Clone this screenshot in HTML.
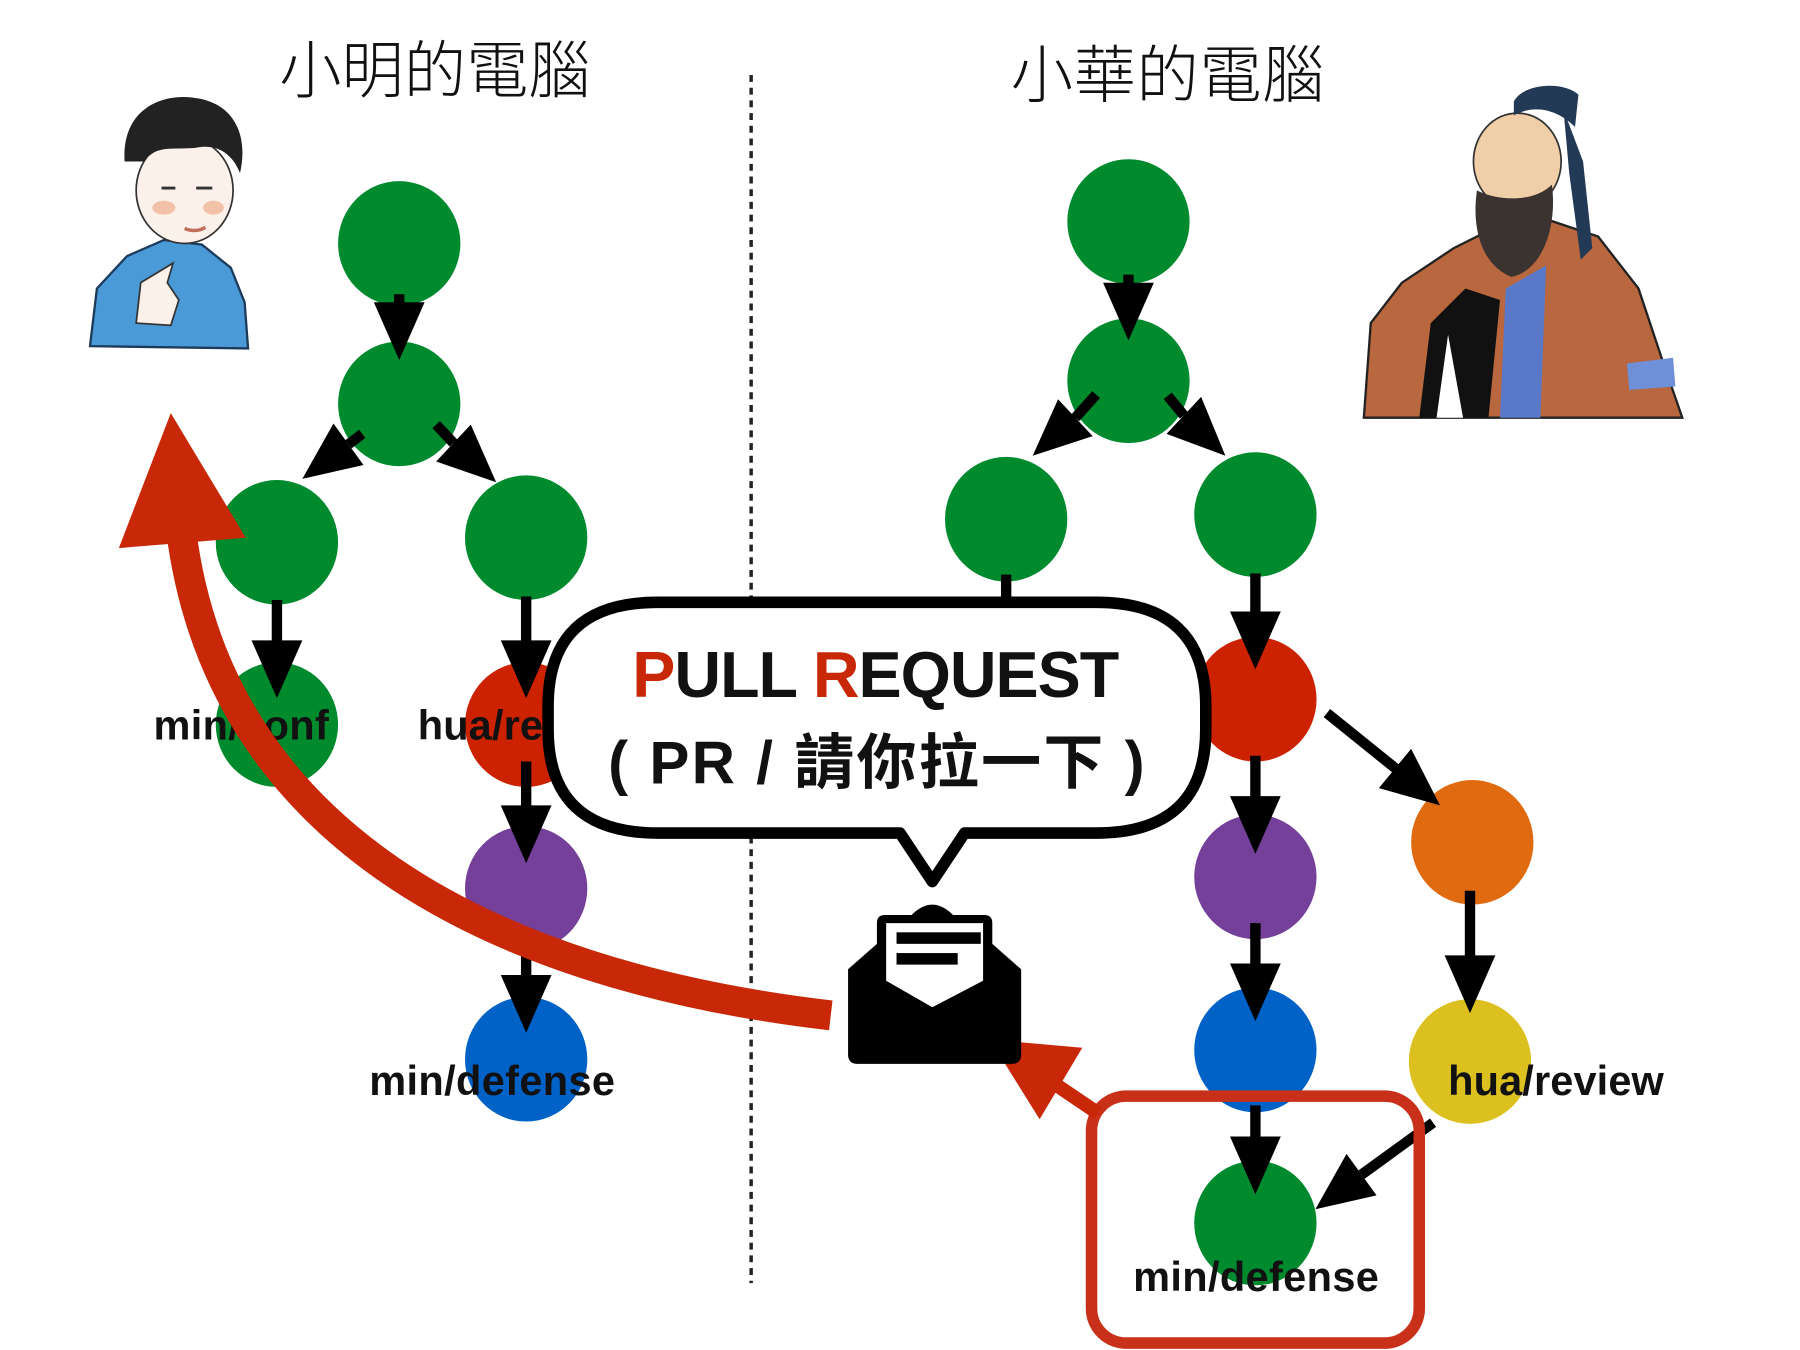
<!DOCTYPE html>
<html><head><meta charset="utf-8"><style>
html,body{margin:0;padding:0;background:#fff;width:1800px;height:1350px;overflow:hidden}
svg{display:block}
.lbl{font-family:"Liberation Sans Narrow","Liberation Sans",sans-serif;font-weight:bold;font-size:36px;fill:#111}
.ttl{font-family:"Liberation Sans","Noto Sans CJK TC",sans-serif;font-weight:300;font-size:54px;fill:#111}
.pr{font-family:"Liberation Sans Narrow","Liberation Sans","Noto Sans CJK TC",sans-serif;font-weight:bold;fill:#111}
</style></head><body>
<svg width="1800" height="1350" viewBox="0 0 1560 1170" xmlns="http://www.w3.org/2000/svg">
<text class="ttl" x="242" y="80" textLength="270">小明的電腦</text>
<text class="ttl" x="876" y="84" textLength="272">小華的電腦</text>
<line x1="651" y1="65" x2="651" y2="1112" stroke="#222" stroke-width="3" stroke-dasharray="6,5"/>

<g>
<path d="M78,300 L84,250 L110,222 L142,208 L175,212 L200,232 L212,262 L215,302 Z" fill="#4a9ad8" stroke="#1c3a5a" stroke-width="2"/>
<ellipse cx="160" cy="165" rx="42" ry="46" fill="#fbf1ea" stroke="#333" stroke-width="1.5"/>
<path d="M108,140 C105,95 140,80 170,85 C205,90 215,120 208,150 C200,130 185,125 170,128 C150,130 135,125 125,140 Z" fill="#222"/>
<ellipse cx="142" cy="180" rx="10" ry="6" fill="#f2c2a8"/>
<ellipse cx="185" cy="180" rx="9" ry="6" fill="#f2c2a8"/>
<line x1="140" y1="163" x2="152" y2="163" stroke="#333" stroke-width="2.5"/>
<line x1="170" y1="163" x2="184" y2="163" stroke="#333" stroke-width="2.5"/>
<path d="M160,198 Q170,202 178,197" stroke="#c0705a" stroke-width="3" fill="none"/>
<path d="M118,280 L122,245 L150,228 L145,245 L155,260 L148,282 Z" fill="#fbf1ea" stroke="#333" stroke-width="1.5"/>
</g>

<g>
<path d="M1182,362 L1188,280 L1215,245 L1260,215 L1300,195 L1340,190 L1385,205 L1420,250 L1440,310 L1458,362 Z" fill="#b8673e" stroke="#222" stroke-width="2"/>
<path d="M1230,362 L1240,280 L1270,250 L1300,260 L1290,362 Z" fill="#111"/>
<path d="M1300,362 L1305,250 L1340,230 L1335,362 Z" fill="#5a78c8"/>
<path d="M1245,362 L1255,290 L1268,362 Z" fill="#fff"/>
<path d="M1410,315 L1450,310 L1452,335 L1412,338 Z" fill="#6f8fd8"/>
<ellipse cx="1315" cy="140" rx="38" ry="42" fill="#f0cfa8" stroke="#333" stroke-width="1.5"/>
<path d="M1312,88 C1320,72 1355,70 1368,82 L1365,110 C1350,95 1330,90 1312,100 Z" fill="#223a55"/>
<path d="M1355,95 L1372,140 L1380,215 L1370,225 L1360,150 Z" fill="#223a55"/>
<path d="M1280,165 C1275,200 1285,230 1310,240 C1335,235 1350,200 1345,160 C1330,175 1300,175 1280,165 Z" fill="#3a3330"/>
</g>

<g>
<ellipse cx="346" cy="211" rx="53" ry="54" fill="#008a2e"/>
<ellipse cx="346" cy="350" rx="53" ry="54" fill="#008a2e"/>
<ellipse cx="240" cy="470" rx="53" ry="54" fill="#008a2e"/>
<ellipse cx="456" cy="466" rx="53" ry="54" fill="#008a2e"/>
<ellipse cx="240" cy="628" rx="53" ry="54" fill="#008a2e"/>
<ellipse cx="456" cy="628" rx="53" ry="54" fill="#cc2200"/>
<ellipse cx="456" cy="770" rx="53" ry="54" fill="#74409a"/>
<ellipse cx="456" cy="918" rx="53" ry="54" fill="#0062c6"/>
</g>
<g>
<ellipse cx="978" cy="192" rx="53" ry="54" fill="#008a2e"/>
<ellipse cx="978" cy="330" rx="53" ry="54" fill="#008a2e"/>
<ellipse cx="872" cy="450" rx="53" ry="54" fill="#008a2e"/>
<ellipse cx="1088" cy="446" rx="53" ry="54" fill="#008a2e"/>
<ellipse cx="1088" cy="606" rx="53" ry="54" fill="#cc2200"/>
<ellipse cx="1088" cy="760" rx="53" ry="54" fill="#74409a"/>
<ellipse cx="1276" cy="730" rx="53" ry="54" fill="#e06a10"/>
<ellipse cx="1088" cy="910" rx="53" ry="54" fill="#0062c6"/>
<ellipse cx="1274" cy="920" rx="53" ry="54" fill="#dcc020"/>
<ellipse cx="1088" cy="1060" rx="53" ry="54" fill="#008a2e"/>
</g>

<g stroke="#000" stroke-width="9" fill="#000">
<line x1="346" y1="255" x2="346" y2="268"/><polygon stroke="none" points="324,262 368,262 346,312"/>
<line x1="314" y1="376" x2="302" y2="385"/><polygon stroke="none" points="315,403 289,367 262,415"/>
<line x1="378" y1="368" x2="393" y2="384"/><polygon stroke="none" points="378,400 408,368 430,418"/>
<line x1="240" y1="520" x2="240" y2="560"/><polygon stroke="none" points="218,555 262,555 240,605"/>
<line x1="456" y1="517" x2="456" y2="560"/><polygon stroke="none" points="434,555 478,555 456,605"/>
<line x1="456" y1="660" x2="456" y2="703"/><polygon stroke="none" points="434,698 478,698 456,748"/>
<line x1="456" y1="810" x2="456" y2="850"/><polygon stroke="none" points="434,845 478,845 456,895"/>

<line x1="978" y1="238" x2="978" y2="250"/><polygon stroke="none" points="956,245 1000,245 978,295"/>
<line x1="950" y1="342" x2="932" y2="362"/><polygon stroke="none" points="947,378 917,346 895,395"/>
<line x1="1012" y1="343" x2="1026" y2="360"/><polygon stroke="none" points="1011,376 1041,344 1062,395"/>
<line x1="872" y1="498" x2="872" y2="530"/>
<line x1="1088" y1="497" x2="1088" y2="535"/><polygon stroke="none" points="1066,530 1110,530 1088,580"/>
<line x1="1088" y1="655" x2="1088" y2="695"/><polygon stroke="none" points="1066,690 1110,690 1088,740"/>
<line x1="1088" y1="800" x2="1088" y2="840"/><polygon stroke="none" points="1066,835 1110,835 1088,885"/>
<line x1="1274" y1="772" x2="1274" y2="833"/><polygon stroke="none" points="1252,828 1296,828 1274,878"/>
<line x1="1088" y1="958" x2="1088" y2="990"/><polygon stroke="none" points="1066,985 1110,985 1088,1035"/>
<line x1="1150" y1="618" x2="1212" y2="668"/><polygon stroke="none" points="1195,683 1223,649 1248,698"/>
<line x1="1242" y1="973" x2="1180" y2="1018"/><polygon stroke="none" points="1193,1036 1167,1000 1140,1048"/>
</g>

<text class="lbl" x="133" y="641" textLength="152">min/conf</text>
<text class="lbl" x="362" y="641" textLength="187">hua/review</text>
<text class="lbl" x="320" y="949" textLength="213">min/defense</text>
<text class="lbl" x="1255" y="949" textLength="187">hua/review</text>

<path d="M720,880 C420,845 190,720 157,460" fill="none" stroke="#c82808" stroke-width="26"/>
<polygon points="103,475 213,466 148,358" fill="#c82808"/>

<rect x="946" y="950" width="284" height="214" rx="30" fill="none" stroke="#c8301a" stroke-width="10"/>
<text class="lbl" x="982" y="1119" textLength="213">min/defense</text>

<line x1="952" y1="965" x2="915" y2="940" stroke="#c82808" stroke-width="12"/>
<polygon points="858,901 938,908 901,970" fill="#c82808"/>

<path d="M570,522 L950,522 Q1045,522 1045,612 L1045,632 Q1045,722 950,722 L836,722 L808,764 L780,722 L570,722 Q475,722 475,632 L475,612 Q475,522 570,522 Z" fill="#fff" stroke="#000" stroke-width="10" stroke-linejoin="round"/>
<text class="pr" x="548" y="604" font-size="56" textLength="422"><tspan fill="#c82808">P</tspan>ULL <tspan fill="#c82808">R</tspan>EQUEST</text>
<text class="pr" x="527" y="679" font-size="52" textLength="465">( PR / 請你拉一下 )</text>

<g>
<path d="M735,840 L760,818 L760,800 Q760,793 767,793 L790,793 Q808,775 826,793 L853,793 Q860,793 860,800 L860,818 L885,840 L885,914 Q885,922 877,922 L743,922 Q735,922 735,914 Z" fill="#000"/>
<path d="M768,800 L852,800 L852,850 L808,873 L768,850 Z" fill="#fff"/>
<rect x="777" y="808" width="73" height="10" fill="#000"/>
<rect x="777" y="826" width="53" height="10" fill="#000"/>
</g>
</svg>
</body></html>
